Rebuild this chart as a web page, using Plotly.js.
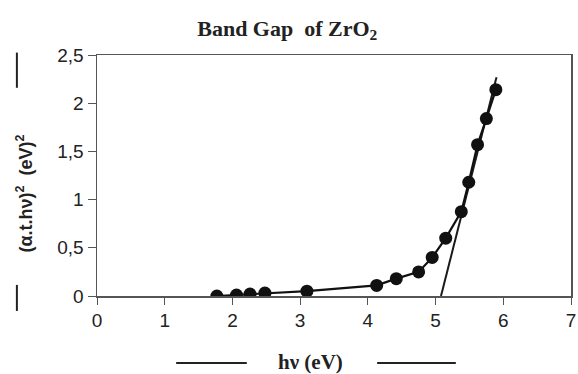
<!DOCTYPE html>
<html><head><meta charset="utf-8">
<script src="https://cdn.plot.ly/plotly-3.0.1.min.js"></script>
<style>html,body{margin:0;padding:0;background:#fff}#c{width:578px;height:374px}</style>
</head><body><div id="c"></div>
<script>
const photonEnergy = [1.77, 2.06, 2.26, 2.48, 3.10, 4.13, 4.42, 4.75, 4.95, 5.15, 5.38, 5.49, 5.62, 5.75, 5.89];
const absorption   = [0.00, 0.01, 0.02, 0.03, 0.05, 0.11, 0.18, 0.25, 0.40, 0.60, 0.875, 1.18, 1.57, 1.84, 2.14];
const fitX = [5.08, 5.90];
const fitY = [0.00, 2.27];
const xTicks = [0, 1, 2, 3, 4, 5, 6, 7];
const yTicks = [0, 0.5, 1, 1.5, 2, 2.5];

const traces = [
  {x: fitX, y: fitY, mode: 'lines', line: {color: '#1a1a1a', width: 2}, hoverinfo: 'skip'},
  {x: photonEnergy, y: absorption, mode: 'lines+markers',
   line: {color: '#111', width: 2.2},
   marker: {color: '#111', size: 13, symbol: 'circle'}}
];

const layout = {
  width: 578, height: 374,
  margin: {l: 97, r: 7, t: 55, b: 78},
  paper_bgcolor: '#fff', plot_bgcolor: '#fff',
  showlegend: false,
  separators: ', ',
  font: {family: 'Liberation Sans, Arial, sans-serif', color: '#222', size: 19},
  title: {text: '<b>Band Gap  of ZrO<sub>2</sub></b>', x: 0.497, xanchor: 'center', y: 0.925, yanchor: 'middle',
          font: {family: 'Liberation Serif, Times New Roman, serif', size: 22, color: '#222'}},
  xaxis: {range: [0, 7], tickvals: xTicks, showgrid: false, zeroline: false,
          showline: true, linecolor: '#555', linewidth: 1.5, mirror: true,
          ticks: 'outside', ticklen: 7, tickcolor: '#555', tickfont: {size: 19}},
  yaxis: {range: [0, 2.5], tickvals: yTicks, showgrid: false, zeroline: false,
          showline: true, linecolor: '#555', linewidth: 1.5, mirror: true,
          ticks: 'outside', ticklen: 8, tickcolor: '#555', tickfont: {size: 19},
          tickformat: '.1~f'},
  annotations: [
    {text: '<b>(α.t.hν)<sup>2</sup>  (eV)<sup>2</sup></b>', xref: 'paper', yref: 'paper', x: -0.152, y: 0.425,
     xanchor: 'center', yanchor: 'middle', showarrow: false, textangle: -90,
     font: {family: 'Liberation Sans, Arial, sans-serif', size: 18, color: '#222'}},
    {text: '<b>hν (eV)</b>', xref: 'paper', yref: 'paper', x: 0.451, y: -0.274,
     xanchor: 'center', yanchor: 'middle', showarrow: false,
     font: {family: 'Liberation Serif, Times New Roman, serif', size: 21, color: '#222'}}
  ],
  shapes: [
    {type: 'line', xref: 'paper', yref: 'paper', x0: -0.169, x1: -0.169, y0: 1.01, y1: 0.864, line: {color: '#222', width: 2}},
    {type: 'line', xref: 'paper', yref: 'paper', x0: -0.169, x1: -0.169, y0: 0.046, y1: -0.062, line: {color: '#222', width: 2}},
    {type: 'line', xref: 'paper', yref: 'paper', x0: 0.167, x1: 0.316, y0: -0.278, y1: -0.278, line: {color: '#222', width: 2}},
    {type: 'line', xref: 'paper', yref: 'paper', x0: 0.591, x1: 0.757, y0: -0.278, y1: -0.278, line: {color: '#222', width: 2}}
  ]
};
Plotly.newPlot('c', traces, layout, {displayModeBar: false, staticPlot: true});
</script></body></html>
